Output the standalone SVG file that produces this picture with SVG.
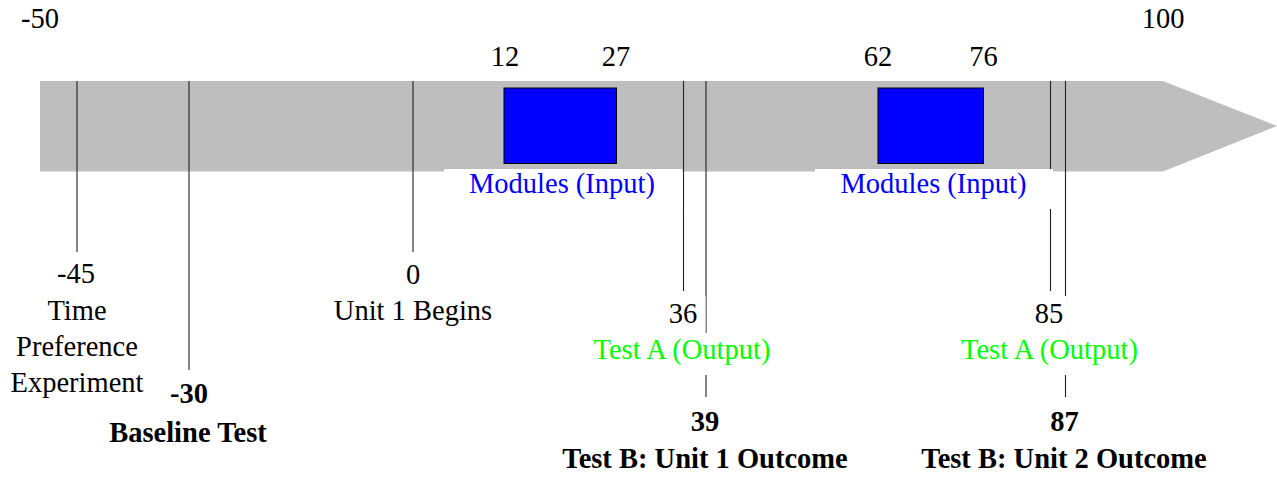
<svg xmlns="http://www.w3.org/2000/svg" width="1277" height="477" viewBox="0 0 1277 477">
<style>
text{font-family:"Liberation Serif","Times New Roman",serif;font-size:28.5px;text-anchor:middle;fill:#000}
.b{font-weight:bold}
.blue{fill:#0000ff}
.green{fill:#00ff00}
.bg{fill:#fff;stroke:none}
.tick{stroke:#222;stroke-width:1.1;fill:none}
.box{fill:#0000ff;stroke:#000;stroke-width:1}
</style>
<rect width="1277" height="477" fill="#fff"/>
<g id="timeline">
<polygon points="40,81 1163,81 1277,126 1163,171.5 40,171.5" fill="#bebebe"/>
<text x="40" y="28">-50</text>
<text x="1163" y="28">100</text>
</g>
<g id="connectors">
<line class="tick" x1="77" y1="81" x2="77" y2="252"/>
<line class="tick" x1="189" y1="81" x2="189" y2="370"/>
<line class="tick" x1="413" y1="81" x2="413" y2="252"/>
<line class="tick" x1="683.5" y1="81" x2="683.5" y2="291"/>
<line class="tick" x1="706" y1="81" x2="706" y2="397"/>
<line class="tick" x1="1050.5" y1="81" x2="1050.5" y2="291"/>
<line class="tick" x1="1065.5" y1="81" x2="1065.5" y2="397"/>
</g>
<g id="module1">
<rect class="box" x="504" y="88" width="112.5" height="75.5"/>
<text x="505" y="66">12</text>
<text x="616" y="66">27</text>
<rect class="bg" x="444" y="169" width="238.5" height="40"/>
<text class="blue" x="562" y="193">Modules (Input)</text>
</g>
<g id="module2">
<rect class="box" x="878" y="88" width="105.5" height="75.5"/>
<text x="878" y="66">62</text>
<text x="983.5" y="66">76</text>
<rect class="bg" x="815" y="169" width="238" height="40"/>
<text class="blue" x="933.5" y="193">Modules (Input)</text>
</g>
<g id="event-m45">
<rect class="bg" x="8" y="252" width="140" height="150"/>
<text x="76" y="283">-45</text>
<text x="77" y="320">Time</text>
<text x="77" y="356">Preference</text>
<text x="77" y="392">Experiment</text>
</g>
<g id="event-m30">
<rect class="bg" x="165" y="370" width="48" height="42"/>
<text class="b" x="189" y="403">-30</text>
<text class="b" x="188" y="442">Baseline Test</text>
</g>
<g id="event-0">
<rect class="bg" x="330" y="252" width="166" height="78"/>
<text x="413" y="284">0</text>
<text x="413" y="320">Unit 1 Begins</text>
</g>
<g id="event-36">
<rect class="bg" x="660" y="296" width="45.5" height="37"/>
<text x="683" y="323">36</text>
<rect class="bg" x="585" y="333" width="196" height="42"/>
<text class="green" x="682" y="359">Test A (Output)</text>
</g>
<g id="event-39">
<rect class="bg" x="558" y="397" width="296" height="78"/>
<text class="b" x="705" y="431">39</text>
<text class="b" x="705" y="468">Test B: Unit 1 Outcome</text>
</g>
<g id="event-85">
<rect class="bg" x="1030" y="296" width="36.5" height="37"/>
<text x="1049" y="323">85</text>
<rect class="bg" x="954" y="333" width="192" height="42"/>
<text class="green" x="1049.5" y="359">Test A (Output)</text>
</g>
<g id="event-87">
<rect class="bg" x="916" y="397" width="296" height="78"/>
<text class="b" x="1064.5" y="431">87</text>
<text class="b" x="1064" y="468">Test B: Unit 2 Outcome</text>
</g>
</svg>
